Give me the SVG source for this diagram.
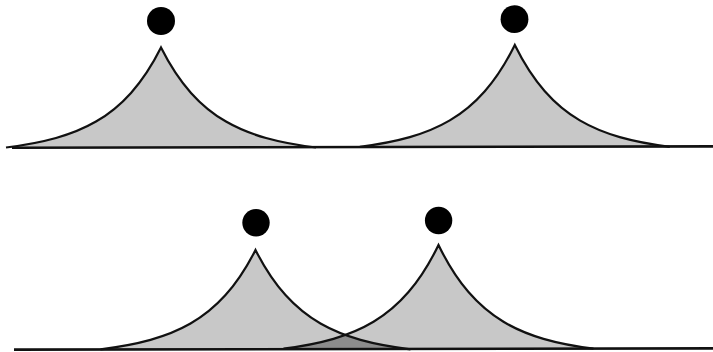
<svg xmlns="http://www.w3.org/2000/svg" xmlns:xlink="http://www.w3.org/1999/xlink" width="713" height="352" viewBox="0 0 713 352">
<style>
.fill{fill:#c8c8c8;stroke:none}
.outline{fill:none;stroke:#111;stroke-width:2.2;stroke-linejoin:miter;stroke-miterlimit:8}
.overlap{fill:#8c8c8c;stroke:none}
.dot{fill:#000}
.base{stroke:#111;stroke-width:2.6;fill:none}
</style>
<defs>
<path id="tl" d="M-155,0 C-138.33,-2.08 -121.67,-4.83 -105,-9.52 C-91.67,-13.27 -78.33,-18.23 -65,-25.95 C-53.33,-32.7 -41.67,-41.54 -30,-54.6 C-20,-65.8 -10,-80.08 0,-100 C10,-80.08 20,-65.8 30,-54.6 C41.67,-41.54 53.33,-32.7 65,-25.95 C78.33,-18.23 91.67,-13.27 105,-9.52 C121.67,-4.83 138.33,-2.08 155,0"/>
<path id="tr" d="M-155,0 C-138.33,-2.12 -121.67,-4.92 -105,-9.69 C-91.67,-13.51 -78.33,-18.55 -65,-26.41 C-53.33,-33.29 -41.67,-42.29 -30,-55.59 C-20,-66.98 -10,-81.52 0,-101.8 C10,-81.52 20,-66.98 30,-55.59 C41.67,-42.29 53.33,-33.29 65,-26.41 C78.33,-18.55 91.67,-13.51 105,-9.69 C121.67,-4.92 138.33,-2.12 155,0"/>
<path id="bl" d="M-155,0 C-138.33,-2.07 -121.67,-4.8 -105,-9.45 C-91.67,-13.18 -78.33,-18.1 -65,-25.76 C-53.33,-32.47 -41.67,-41.25 -30,-54.22 C-20,-65.34 -10,-79.52 0,-99.3 C10,-79.52 20,-65.34 30,-54.22 C41.67,-41.25 53.33,-32.47 65,-25.76 C78.33,-18.1 91.67,-13.18 105,-9.45 C121.67,-4.8 138.33,-2.07 155,0"/>
<path id="br" d="M-155,0 C-138.33,-2.16 -121.67,-5.01 -105,-9.87 C-91.67,-13.76 -78.33,-18.9 -65,-26.91 C-53.33,-33.91 -41.67,-43.08 -30,-56.62 C-20,-68.23 -10,-83.05 0,-103.7 C10,-83.05 20,-68.23 30,-56.62 C41.67,-43.08 53.33,-33.91 65,-26.91 C78.33,-18.9 91.67,-13.76 105,-9.87 C121.67,-5.01 138.33,-2.16 155,0"/>
<clipPath id="clipBL"><use href="#bl" xlink:href="#bl" transform="translate(255.5 349.3)"/></clipPath>
</defs>
<rect x="0" y="0" width="713" height="352" fill="#fff"/>
<g id="peak-top-left">
<use href="#tl" xlink:href="#tl" class="fill" transform="translate(161 147.5)"/>
<use href="#tl" xlink:href="#tl" class="outline" transform="translate(161 147.5)"/>
<circle class="dot" cx="161" cy="21" r="14"/>
</g>
<g id="peak-top-right">
<use href="#tr" xlink:href="#tr" class="fill" transform="translate(514.8 146.8)"/>
<use href="#tr" xlink:href="#tr" class="outline" transform="translate(514.8 146.8)"/>
<circle class="dot" cx="514.5" cy="19.2" r="13.9"/>
</g>
<g id="peak-bottom-left">
<use href="#bl" xlink:href="#bl" class="fill" transform="translate(255.5 349.3)"/>
<circle class="dot" cx="256" cy="222.8" r="13.7"/>
</g>
<g id="peak-bottom-right">
<use href="#br" xlink:href="#br" class="fill" transform="translate(438.5 348.7)"/>
<circle class="dot" cx="438.6" cy="220.5" r="13.7"/>
</g>
<g id="overlap" clip-path="url(#clipBL)">
<use href="#br" xlink:href="#br" class="overlap" transform="translate(438.5 348.7)"/>
</g>
<g id="connectors">
<use href="#bl" xlink:href="#bl" class="outline" transform="translate(255.5 349.3)"/>
<use href="#br" xlink:href="#br" class="outline" transform="translate(438.5 348.7)"/>
<line class="base" x1="12" y1="147.7" x2="713" y2="146.4"/>
<line class="base" x1="14" y1="349.6" x2="713" y2="348.4"/>
</g>
</svg>
